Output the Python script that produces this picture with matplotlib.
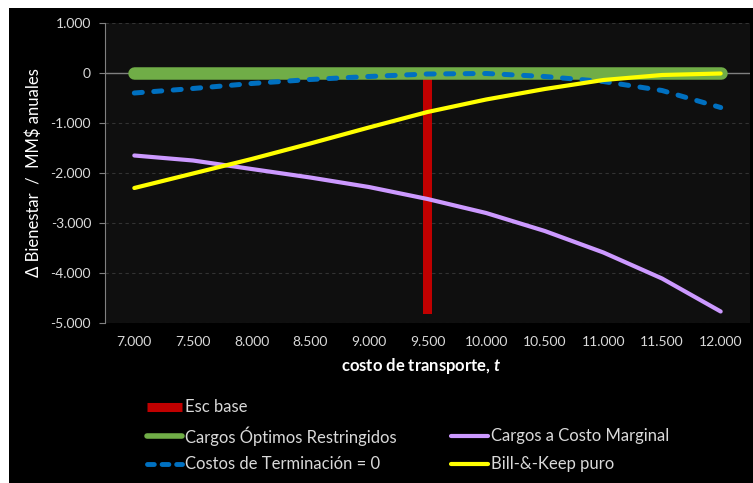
import matplotlib

matplotlib.use("Agg")
import matplotlib.pyplot as plt
from matplotlib.lines import Line2D
from matplotlib.patches import Rectangle
from matplotlib.ticker import FuncFormatter

# transport cost t (category axis) and welfare changes, MM$ per year
costo_t = [7000, 7500, 8000, 8500, 9000, 9500, 10000, 10500, 11000, 11500, 12000]
optimos_restringidos = [0, 0, 0, 0, 0, 0, 0, 0, 0, 0, 0]
costo_marginal = [-1650, -1750, -1920, -2090, -2280, -2520, -2800, -3160, -3590, -4110, -4770]
terminacion_cero = [-400, -310, -210, -130, -70, -20, -10, -70, -170, -350, -690]
bill_and_keep = [-2300, -2010, -1720, -1410, -1090, -780, -530, -320, -140, -40, -10]
esc_base_t = [9500]
esc_base_val = [-4820]

y_ticks = [-5000, -4000, -3000, -2000, -1000, 0, 1000]
x_ticks = costo_t

RED = "#c00000"
GREEN = "#70ad47"
PURPLE = "#cc99ff"
BLUE = "#0070c0"
YELLOW = "#ffff00"
TXT = "#d9d9d9"

plt.rcParams.update(
    {
        "font.family": ["Lato", "DejaVu Sans"],
        "mathtext.fontset": "custom",
        "mathtext.bfit": "Lato:bold:italic",
    }
)


def miles(v, _pos=None):
    return f"{int(v):,}".replace(",", ".")


W, H = 753, 483
fig = plt.figure(figsize=(W / 100, H / 100), dpi=100, facecolor="white")
# black card behind everything
fig.add_artist(
    Rectangle((9 / W, 0), 1, (H - 8) / H, transform=fig.transFigure,
              facecolor="black", edgecolor="none", zorder=-10)
)

ax = fig.add_axes([105 / W, 1 - 323 / H, 645 / W, 300 / H])
ax.set_facecolor("#0f0f0f")

# base scenario marker
ax.bar(esc_base_t, esc_base_val, width=75, color=RED, zorder=2)

ax.plot(costo_t, optimos_restringidos, color=GREEN, lw=9, solid_capstyle="round", zorder=3)
ax.plot(costo_t, costo_marginal, color=PURPLE, lw=3, solid_capstyle="round",
        solid_joinstyle="round", zorder=4)
ax.plot(costo_t, terminacion_cero, color=BLUE, lw=3.6, dashes=(1.6, 2.3),
        dash_capstyle="round", zorder=5)
ax.plot(costo_t, bill_and_keep, color=YELLOW, lw=3, solid_capstyle="round",
        solid_joinstyle="round", zorder=6)

ax.axhline(0, color="#808080", lw=1, zorder=1)
ax.set_xlim(6750, 12250)
ax.set_ylim(-5000, 1000)
ax.set_yticks(y_ticks)
ax.set_xticks(x_ticks)
ax.yaxis.set_major_formatter(FuncFormatter(miles))
ax.xaxis.set_major_formatter(FuncFormatter(miles))
ax.grid(axis="y", color="#333333", linestyle=(0, (3, 3)), lw=0.8)
ax.set_axisbelow(True)

for s in ("top", "right", "bottom"):
    ax.spines[s].set_visible(False)
ax.spines["left"].set_color("#808080")
ax.tick_params(axis="y", colors="#808080", labelcolor=TXT, labelsize=10, length=4, pad=6)
ax.tick_params(axis="x", length=0, labelcolor=TXT, labelsize=10, pad=9)

ax.set_ylabel("Δ Bienestar  /  MM$ anuales", color="white", fontsize=12)
ax.yaxis.set_label_coords(-0.098, 0.5)
ax.text(0.49, -0.143, r"costo de transporte, $\mathbfit{t}$", transform=ax.transAxes,
        ha="center", va="center", color="white", fontsize=12, fontweight="bold")

# legend laid out by hand on a fixed grid: (column x, row y) in pixels
legend_items = [
    ("Esc base", dict(color=RED, lw=6.5, solid_capstyle="butt"), 0, 0),
    ("Cargos Óptimos Restringidos", dict(color=GREEN, lw=4, solid_capstyle="round"), 0, 1),
    ("Costos de Terminación = 0",
     dict(color=BLUE, lw=3.5, dashes=(1.4, 1.6), dash_capstyle="round"), 0, 2),
    ("Cargos a Costo Marginal", dict(color=PURPLE, lw=3, solid_capstyle="round"), 1, 1),
    ("Bill-&-Keep puro", dict(color=YELLOW, lw=3, solid_capstyle="round"), 1, 2),
]
col_x = [(147, 182, 185), (451, 488, 491)]
row_y = [407, 436, 464]
for label, style, col, row in legend_items:
    x0, x1, tx = col_x[col]
    y = 1 - row_y[row] / H
    fig.add_artist(Line2D([x0 / W, x1 / W], [y, y], transform=fig.transFigure, **style))
    fig.text(tx / W, y, label, color=TXT, fontsize=12, ha="left", va="center")

fig.savefig("out.png", dpi=100, facecolor="white")
